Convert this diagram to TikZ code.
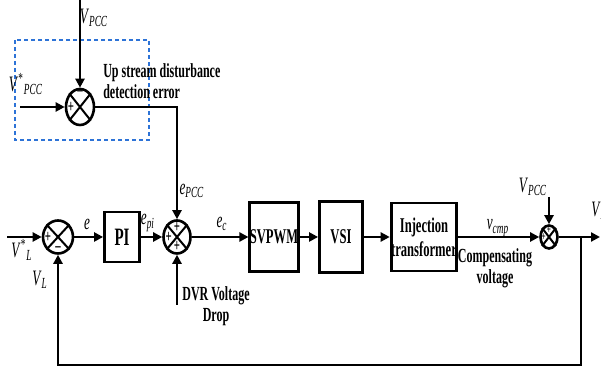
\documentclass[tikz,border=0pt]{standalone}
\usepackage{fontspec}
\setmainfont{Liberation Serif}[FakeStretch=0.6]
\usepackage{xcolor}
\usetikzlibrary{arrows.meta,positioning,shapes.geometric}
\definecolor{zoneblue}{RGB}{45,115,215}
\newcommand{\sig}[2]{\textit{#1}\textsubscript{\textit{#2}}}

\begin{document}
\begin{tikzpicture}[x=0.5pt, y=-0.5pt,
    line width=1.3pt, >={Triangle[length=4.5pt,width=4.5pt]},
    blk/.style={draw, line width=1.4pt, inner sep=0pt, align=center, font=\bfseries\fontsize{10.5}{12}\selectfont},
    sumj/.style={draw, ellipse, inner sep=0pt},
    sgn/.style={inner sep=0pt, font=\bfseries\fontsize{9}{9}\selectfont},
    lbl/.style={inner sep=0pt, font=\fontsize{11}{12}\selectfont},
    txt/.style={inner sep=0pt, align=center, font=\bfseries\fontsize{10}{10.5}\selectfont},
    zone/.style={draw=zoneblue, dash pattern=on 2pt off 1.5pt, line width=1pt}
]
\useasboundingbox (0,0) rectangle (601,367);

\draw[zone] (15,40) rectangle (149,140);

\node[sumj, minimum width=14pt, minimum height=18pt] (s0) at (80,107) {};
\node[sumj, minimum width=15pt, minimum height=16.5pt] (s1) at (58,237) {};
\node[sumj, minimum width=13.5pt, minimum height=16.5pt] (s2) at (177,237) {};
\node[sumj, minimum width=8.5pt, minimum height=11.5pt] (s3) at (549,237) {};
\foreach \s in {s0,s1,s2,s3}
  \draw[line width=1pt] (\s.north west) -- (\s.south east) (\s.north east) -- (\s.south west);

\node[sgn, below=1pt of s0.north] (m0) {--};
\node[sgn, right=1pt of s0.west] (p0) {+};
\node[sgn, right=1pt of s1.west] (p1) {+};
\node[sgn, above=1pt of s1.south] (m1) {--};
\node[sgn, below=1pt of s2.north] (p2a) {+};
\node[sgn, right=1pt of s2.west] (p2b) {+};
\node[sgn, above=1pt of s2.south] (p2c) {+};
\node[sgn, font=\bfseries\fontsize{6}{6}\selectfont, below=0.5pt of s3.north] (p3a) {+};
\node[sgn, font=\bfseries\fontsize{6}{6}\selectfont, right=0.5pt of s3.west] (p3b) {+};

\node[blk, minimum width=17.5pt, minimum height=25pt, font=\bfseries\fontsize{12.5}{13}\selectfont] (pi) at (122,237) {PI};
\node[blk, minimum width=24pt, minimum height=34.5pt] (pwm) at (274,237) {SVPWM};
\node[blk, minimum width=21.5pt, minimum height=35.5pt] (vsi) at (341,237) {VSI};
\node[blk, minimum width=32pt, minimum height=34pt] (inj) at (424,237) {Injection\\transformer};

\coordinate (top0) at (80,0);
\coordinate (in0) at (20,107);
\coordinate (in1) at (7,237);
\coordinate (dvr) at (177,305);
\coordinate (top3) at (549,197);
\coordinate (fb) at (581,237);
\coordinate (fbb) at (581,365);
\coordinate (out) at (600,237);

\draw[->] (top0) -- (s0);
\draw[->] (in0) -- (s0);
\draw[->] (s0) -| (s2);
\draw[->] (in1) -- (s1);
\draw[->] (s1) -- (pi);
\draw[->] (pi) -- (s2);
\draw[->] (dvr) -- (s2);
\draw[->] (s2) -- (pwm);
\draw[->] (pwm) -- (vsi);
\draw[->] (vsi) -- (inj);
\draw[->] (inj) -- (s3);
\draw[->] (top3) -- (s3);
\draw[->] (s3) -- (out);
\draw[->] (fb) -- (fbb) -| (s1);

\node[lbl] (lvpcc0) at (94,18) {\sig{V}{PCC}};
\node[lbl] (lvref0) at (26,84) {\textit{V}\textsuperscript{*}\textsubscript{\textit{PCC}}};
\node[txt, align=left, anchor=west] (lup) at (102,81) {Up stream disturbance\\detection error};
\node[lbl] (lvref) at (22,250) {\textit{V}\textsuperscript{*}\textsubscript{\textit{L}}};
\node[lbl] (lvl) at (40,280) {\sig{V}{L}};
\node[lbl] (le) at (87,224) {\textit{e}};
\node[lbl] (lepi) at (148,223) {\sig{e}{pi}};
\node[lbl] (lepcc) at (192,191) {\sig{e}{PCC}};
\node[lbl] (lec) at (222,224) {\sig{e}{c}};
\node[txt] (ldvr) at (216,306) {DVR Voltage\\Drop};
\node[lbl] (lvcmp) at (498,228) {\sig{v}{cmp}};
\node[txt] (lcomp) at (495,268) {Compensating\\voltage};
\node[lbl] (lvpcc3) at (533,187) {\sig{V}{PCC}};
\node[lbl, anchor=west] (lvout) at (590,211) {\sig{V}{L}};
\end{tikzpicture}
\end{document}
